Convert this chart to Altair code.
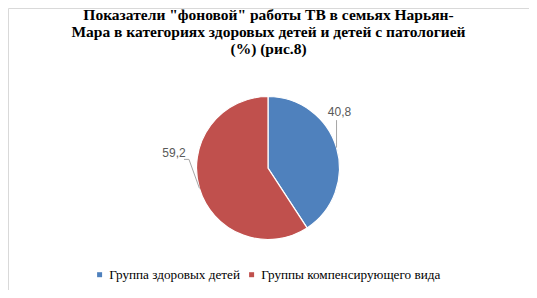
import altair as alt
import pandas as pd

# ---- data ----
categories = ["Группа здоровых детей", "Группы компенсирующего вида"]
values = [40.8, 59.2]
colors = ["#4F81BD", "#C0504D"]
title_lines = [
    'Показатели "фоновой" работы ТВ в семьях Нарьян-',
    "Мара в категориях здоровых детей и детей с патологией",
    "(%) (рис.8)",
]

# ---- layout / style (pixels) ----
W, H = 521, 282
CX, CY, R = 260, 160, 71.5
SERIF = "Liberation Serif"
leader_style = {
    "elbow_dx": [0.0, -10.5],
    "elbow_dy": [-27.5, -29.0],
    "end_dx": [0.0, -5.0],
    "label_dx": [3.0, -25.5],
    "label_dy": [-36.0, -35.0],
}

df = pd.DataFrame({"cat": categories, "value": values, "idx": list(range(len(values))), **leader_style})
base = alt.Chart(df)

pie = base.mark_arc(radius=R, stroke="white", strokeWidth=1.2).encode(
    theta=alt.Theta("value:Q", stack=True),
    order=alt.Order("idx:Q"),
    color=alt.Color(
        "cat:N",
        scale=alt.Scale(domain=categories, range=colors),
        sort=categories,
        legend=alt.Legend(
            title=None,
            orient="none",
            legendX=85,
            legendY=260,
            direction="horizontal",
            symbolType="square",
            symbolSize=25,
            symbolStrokeWidth=0,
            labelFont=SERIF,
            labelFontSize=13.2,
            labelColor="#000000",
            labelLimit=400,
            labelOffset=3,
            columnPadding=5,
        ),
    ),
    x=alt.value(CX),
    y=alt.value(CY),
)

geo = (
    base.transform_joinaggregate(total="sum(value)")
    .transform_window(cum="sum(value)", sort=[alt.SortField("idx")], frame=[None, 0])
    .transform_calculate(
        mid="2*PI*(datum.cum - datum.value/2)/datum.total",
    )
    .transform_calculate(
        ex=f"{CX} + {R}*sin(datum.mid)",
        ey=f"{CY} - {R}*cos(datum.mid)",
    )
    .transform_calculate(
        bx="datum.ex + datum.elbow_dx",
        by="datum.ey + datum.elbow_dy",
        lx="datum.ex + datum.label_dx",
        ly="datum.ey + datum.label_dy",
        label="replace(format(datum.value, '.1f'), '.', ',')",
    )
    .transform_calculate(fx="datum.bx + datum.end_dx")
)

seg1 = geo.mark_rule(color="#A6A6A6", strokeWidth=1).encode(
    x=alt.X("ex:Q", scale=None, axis=None),
    y=alt.Y("ey:Q", scale=None, axis=None),
    x2="bx:Q",
    y2="by:Q",
)
seg2 = geo.mark_rule(color="#A6A6A6", strokeWidth=1).encode(
    x=alt.X("bx:Q", scale=None, axis=None),
    y=alt.Y("by:Q", scale=None, axis=None),
    x2="fx:Q",
    y2="by:Q",
)
labels = geo.mark_text(
    font="Liberation Sans", fontSize=12, color="#595959", align="center", baseline="middle"
).encode(
    x=alt.X("lx:Q", scale=None, axis=None),
    y=alt.Y("ly:Q", scale=None, axis=None),
    text="label:N",
)

chart = (
    alt.layer(pie, seg1, seg2, labels)
    .properties(
        width=W,
        height=H,
        padding=0,
        autosize=alt.AutoSizeParams(type="none"),
        title=alt.TitleParams(
            text=title_lines,
            font=SERIF,
            fontSize=15.5,
            fontWeight="bold",
            color="#000000",
            anchor="middle",
            frame="group",
            baseline="alphabetic",
            offset=-61,
            lineHeight=17,
        ),
    )
    .configure_view(stroke="#D9D9D9", strokeWidth=1)
)

chart.save("out.html", embed_options={"renderer": "svg", "actions": False})
